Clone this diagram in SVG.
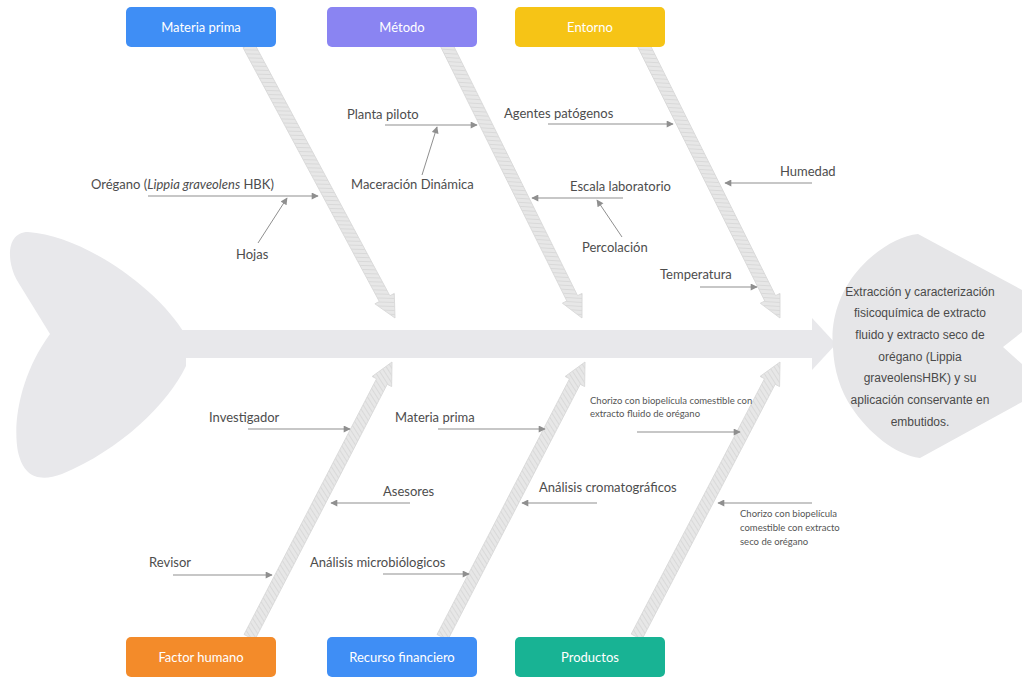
<svg xmlns="http://www.w3.org/2000/svg" width="1022" height="677" viewBox="0 0 1022 677">
  <defs>
    <pattern id="hatch" patternUnits="userSpaceOnUse" width="4" height="4" patternTransform="rotate(30)">
      <rect width="4" height="4" fill="#e7e7e7"/>
      <line x1="0" y1="0" x2="0" y2="4" stroke="#d4d4d4" stroke-width="1.4"/>
    </pattern>
    <marker id="ah" viewBox="0 0 10 10" refX="9" refY="5" markerWidth="9" markerHeight="7" markerUnits="userSpaceOnUse" orient="auto">
      <path d="M0,0 L10,5 L0,10 z" fill="#8f8f8f"/>
    </marker>
    <polygon id="bone" points="-310,-6 -22,-6 -22,-11 0,0 -22,11 -22,6 -310,6"/>
  </defs>
  <style>
    .lbl { font-family: Lato, "Liberation Sans", sans-serif; font-size: 13px; fill: #4d4d4d; }
    .sm { font-family: Lato, "Liberation Sans", sans-serif; font-size: 9.5px; fill: #555555; }
    .box-t { font-family: Lato, "Liberation Sans", sans-serif; font-size: 13px; fill: #ffffff; text-anchor: middle; }
    .head-t { font-family: "Liberation Sans", Arial, sans-serif; font-size: 12px; fill: #4a4a4a; text-anchor: middle; }
    .sub { stroke: #8f8f8f; stroke-width: 1; fill: none; marker-end: url(#ah); }
    .bone { fill: url(#hatch); stroke: #d8d8d8; stroke-width: 0.8; }
    .body { fill: #e8e8eb; }
  </style>

  <rect width="1022" height="677" fill="#ffffff"/>

  <g id="tail">
    <path class="body" d="M186,336 C160,290 85,236 28,232 C6,232 6,262 18,282 L50,334 C22,372 12,420 18,452 C24,478 40,482 62,474 C120,450 168,404 186,366 Z"/>
  </g>

  <g id="connectors">
    <rect class="body" x="180" y="330" width="636" height="28"/>
    <polygon class="body" points="812,318 836,344 812,370"/>
    <use href="#bone" class="bone" transform="translate(395,318) rotate(61.76)"/>
    <use href="#bone" class="bone" transform="translate(582,318) rotate(63.6)"/>
    <use href="#bone" class="bone" transform="translate(780,318) rotate(63.43)"/>
    <use href="#bone" class="bone" transform="translate(392,362) rotate(-62.61)"/>
    <use href="#bone" class="bone" transform="translate(585,362) rotate(-62.61)"/>
    <use href="#bone" class="bone" transform="translate(780,362) rotate(-62.44)"/>

    <line class="sub" x1="148" y1="196" x2="318" y2="196"/>
    <line class="sub" x1="258" y1="243" x2="287" y2="198"/>
    <line class="sub" x1="385" y1="125" x2="477" y2="125"/>
    <line class="sub" x1="422" y1="175" x2="437" y2="127"/>
    <line class="sub" x1="548" y1="124" x2="673" y2="124"/>
    <line class="sub" x1="623" y1="198" x2="532" y2="198"/>
    <line class="sub" x1="622" y1="237" x2="597" y2="200"/>
    <line class="sub" x1="812" y1="183" x2="725" y2="183"/>
    <line class="sub" x1="700" y1="287" x2="757" y2="287"/>
    <line class="sub" x1="248" y1="429" x2="350" y2="429"/>
    <line class="sub" x1="438" y1="429" x2="545" y2="429"/>
    <line class="sub" x1="637" y1="432" x2="740" y2="432"/>
    <line class="sub" x1="410" y1="503" x2="331" y2="503"/>
    <line class="sub" x1="597" y1="503" x2="522" y2="503"/>
    <line class="sub" x1="812" y1="503" x2="718" y2="503"/>
    <line class="sub" x1="173" y1="575" x2="272" y2="575"/>
    <line class="sub" x1="383" y1="574" x2="469" y2="574"/>
  </g>

  <g id="head">
    <path fill="#e6e6e8" d="M833,348 C830,320 840,290 860,268 C878,248 900,236 918,234 L1022,290 L1022,332 L1003,347 L1022,364 L1022,402 L920,458 C895,455 868,432 852,408 C840,390 834,370 833,348 Z"/>
    <text class="head-t" x="920" y="296">Extracción y caracterización</text>
    <text class="head-t" x="920" y="317">fisicoquímica de extracto</text>
    <text class="head-t" x="920" y="339">fluido y extracto seco de</text>
    <text class="head-t" x="920" y="361">orégano (Lippia</text>
    <text class="head-t" x="920" y="382">graveolensHBK) y su</text>
    <text class="head-t" x="920" y="404">aplicación conservante en</text>
    <text class="head-t" x="920" y="426">embutidos.</text>
  </g>

  <g id="box-materia-prima">
    <rect x="126" y="7" width="150" height="40" rx="5" fill="#3f8ef5"/>
    <text class="box-t" x="201" y="32">Materia prima</text>
  </g>
  <g id="box-metodo">
    <rect x="327" y="7" width="150" height="40" rx="5" fill="#8a84f2"/>
    <text class="box-t" x="402" y="32">Método</text>
  </g>
  <g id="box-entorno">
    <rect x="515" y="7" width="150" height="40" rx="5" fill="#f6c416"/>
    <text class="box-t" x="590" y="32">Entorno</text>
  </g>
  <g id="box-factor-humano">
    <rect x="126" y="637" width="150" height="40" rx="5" fill="#f38b2a"/>
    <text class="box-t" x="201" y="662">Factor humano</text>
  </g>
  <g id="box-recurso-financiero">
    <rect x="327" y="637" width="150" height="40" rx="5" fill="#3f8ef5"/>
    <text class="box-t" x="402" y="662">Recurso financiero</text>
  </g>
  <g id="box-productos">
    <rect x="515" y="637" width="150" height="40" rx="5" fill="#18b394"/>
    <text class="box-t" x="590" y="662">Productos</text>
  </g>

  <g id="lbl-oregano"><text class="lbl" x="91" y="189">Orégano (<tspan font-style="italic">Lippia graveolens</tspan> HBK)</text></g>
  <g id="lbl-hojas"><text class="lbl" x="236" y="259">Hojas</text></g>
  <g id="lbl-planta-piloto"><text class="lbl" x="347" y="119">Planta piloto</text></g>
  <g id="lbl-maceracion"><text class="lbl" x="351" y="189">Maceración Dinámica</text></g>
  <g id="lbl-agentes"><text class="lbl" x="504" y="118">Agentes patógenos</text></g>
  <g id="lbl-escala"><text class="lbl" x="570" y="191">Escala laboratorio</text></g>
  <g id="lbl-percolacion"><text class="lbl" x="582" y="252">Percolación</text></g>
  <g id="lbl-humedad"><text class="lbl" x="780" y="176">Humedad</text></g>
  <g id="lbl-temperatura"><text class="lbl" x="660" y="279">Temperatura</text></g>
  <g id="lbl-investigador"><text class="lbl" x="209" y="422">Investigador</text></g>
  <g id="lbl-materia-prima-2"><text class="lbl" x="395" y="422">Materia prima</text></g>
  <g id="lbl-chorizo-fluido">
    <text class="sm" x="590" y="404">Chorizo con biopelícula comestible con</text>
    <text class="sm" x="590" y="417">extracto fluido de orégano</text>
  </g>
  <g id="lbl-asesores"><text class="lbl" x="383" y="496">Asesores</text></g>
  <g id="lbl-cromatograficos"><text class="lbl" x="539" y="492">Análisis cromatográficos</text></g>
  <g id="lbl-chorizo-seco">
    <text class="sm" x="740" y="517">Chorizo con biopelícula</text>
    <text class="sm" x="740" y="531">comestible con extracto</text>
    <text class="sm" x="740" y="545">seco de orégano</text>
  </g>
  <g id="lbl-revisor"><text class="lbl" x="149" y="567">Revisor</text></g>
  <g id="lbl-microbiologicos"><text class="lbl" x="310" y="567">Análisis microbiólogicos</text></g>
</svg>
